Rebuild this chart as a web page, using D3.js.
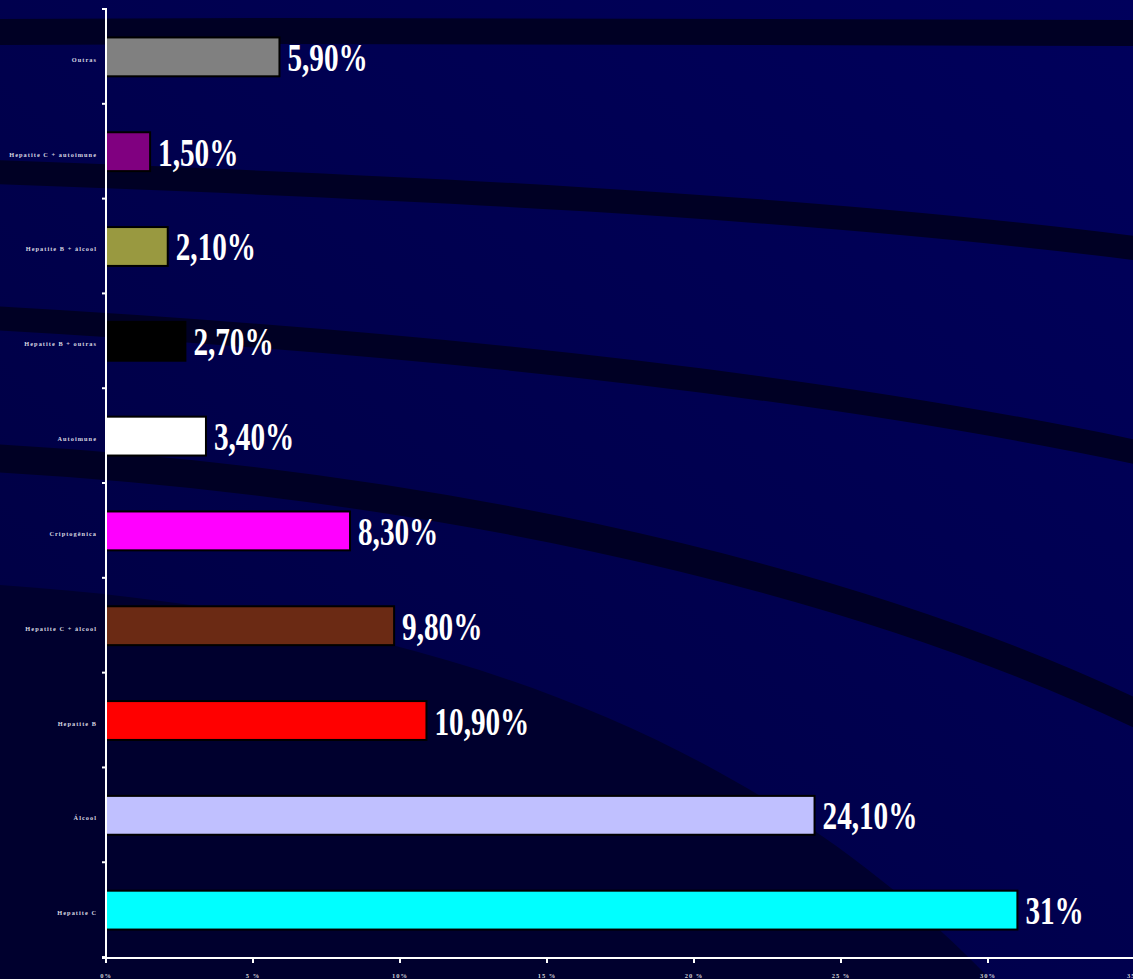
<!DOCTYPE html>
<html>
<head>
<meta charset="utf-8">
<script src="https://cdn.jsdelivr.net/npm/d3@7"></script>
<style>
  html, body { margin: 0; padding: 0; background: #00004c; overflow: hidden; }
  svg { display: block; }
</style>
</head>
<body>
<svg id="chart" width="1133" height="979"></svg>
<script>
// Causes, top to bottom as drawn
const categories = [
  "Outras",
  "Hepatite C + autoimune",
  "Hepatite B + álcool",
  "Hepatite B + outras",
  "Autoimune",
  "Criptogênica",
  "Hepatite C + álcool",
  "Hepatite B",
  "Álcool",
  "Hepatite C"
];
// Share of cases (%)
const values = [5.9, 1.5, 2.1, 2.7, 3.4, 8.3, 9.8, 10.9, 24.1, 31];
const valueLabels = ["5,90%", "1,50%", "2,10%", "2,70%", "3,40%", "8,30%", "9,80%", "10,90%", "24,10%", "31%"];
const barColors = ["#808080", "#800080", "#999940", "#000000", "#ffffff", "#ff00ff", "#6b2a14", "#ff0000", "#c0c0ff", "#00ffff"];
const xTickValues = [0, 5, 10, 15, 20, 25, 30, 35];
const xTickLabels = ["0%", "5 %", "10%", "15 %", "20 %", "25 %", "30%", "35%"];

const W = 1133, H = 979;
const svg = d3.select("#chart");

// ---- backdrop: navy field with dark sweeping bands ----
const defs = svg.append("defs");
const grad = defs.append("linearGradient").attr("id", "bg")
  .attr("x1", 0).attr("y1", 1).attr("x2", 1).attr("y2", 0);
grad.append("stop").attr("offset", 0).attr("stop-color", "#000040");
grad.append("stop").attr("offset", 1).attr("stop-color", "#00005c");
svg.append("rect").attr("width", W).attr("height", H).attr("fill", "url(#bg)");

const bg = svg.append("g");
// lower-left dark sweep
bg.append("path")
  .attr("d", "M0,585 C360,610 720,700 990,979 L0,979 Z")
  .attr("fill", "#00002e");
// dark stripes
const stripes = [
  { d: "M-10,32 C380,30 780,30 1150,33", w: 26 },
  { d: "M-10,172 C380,186 800,205 1150,250", w: 24 },
  { d: "M-10,318 C380,340 800,380 1150,455", w: 24 },
  { d: "M-10,458 C380,480 820,560 1150,720", w: 28 }
];
stripes.forEach(s => bg.append("path")
  .attr("d", s.d).attr("fill", "none")
  .attr("stroke", "#000024").attr("stroke-width", s.w));

// ---- scales ----
const x = d3.scaleLinear().domain([0, 35]).range([106, 1135]);
const y = d3.scaleBand().domain(categories).range([9, 958]).paddingInner(0.59).paddingOuter(0.3);

const plot = svg.append("g");

// bars
plot.selectAll("rect.bar")
  .data(categories)
  .join("rect")
  .attr("class", "bar")
  .attr("x", x(0))
  .attr("y", d => y(d))
  .attr("width", (d, i) => x(values[i]) - x(0))
  .attr("height", y.bandwidth())
  .attr("fill", (d, i) => barColors[i])
  .attr("stroke", "#000000")
  .attr("stroke-width", 2);

// value labels
plot.selectAll("text.val")
  .data(categories)
  .join("text")
  .attr("class", "val")
  .attr("transform", (d, i) => `translate(${x(values[i]) + 8},${y(d) + y.bandwidth() / 2 + 14}) scale(0.73,1)`)
  .attr("font-family", "'Liberation Serif', 'Times New Roman', serif")
  .attr("font-weight", "bold")
  .attr("font-size", 40)
  .attr("fill", "#ffffff")
  .text((d, i) => valueLabels[i]);

// ---- y axis ----
const yAxis = svg.append("g");
yAxis.append("line")
  .attr("x1", x(0)).attr("x2", x(0))
  .attr("y1", 8).attr("y2", 958)
  .attr("stroke", "#ffffff").attr("stroke-width", 2);
const step = y.step();
const start = y(categories[0]) - step * y.paddingOuter();
const boundaries = d3.range(categories.length + 1).map(i => start + i * step);
yAxis.selectAll("line.tick")
  .data(boundaries)
  .join("line")
  .attr("class", "tick")
  .attr("x1", x(0) - 4).attr("x2", x(0))
  .attr("y1", d => d).attr("y2", d => d)
  .attr("stroke", "#ffffff").attr("stroke-width", 2);
yAxis.selectAll("text")
  .data(categories)
  .join("text")
  .attr("x", 97)
  .attr("y", d => y(d) + y.bandwidth() / 2 + 5)
  .attr("text-anchor", "end")
  .attr("font-family", "'Liberation Serif', 'Times New Roman', serif")
  .attr("font-weight", "bold")
  .attr("font-size", 6.3)
  .attr("letter-spacing", 1.05)
  .attr("fill", "#d8d8e0")
  .text(d => d);

// ---- x axis ----
const xAxis = svg.append("g");
xAxis.append("line")
  .attr("x1", x(0) - 4).attr("x2", W)
  .attr("y1", 958).attr("y2", 958)
  .attr("stroke", "#ffffff").attr("stroke-width", 2);
xAxis.selectAll("line.tick")
  .data(xTickValues)
  .join("line")
  .attr("class", "tick")
  .attr("x1", d => x(d)).attr("x2", d => x(d))
  .attr("y1", 958).attr("y2", 963)
  .attr("stroke", "#ffffff").attr("stroke-width", 2);
xAxis.selectAll("text")
  .data(xTickValues)
  .join("text")
  .attr("x", d => x(d))
  .attr("y", 978)
  .attr("text-anchor", "middle")
  .attr("font-family", "'Liberation Serif', 'Times New Roman', serif")
  .attr("font-weight", "bold")
  .attr("font-size", 6.5)
  .attr("letter-spacing", 1)
  .attr("fill", "#d0d0d8")
  .text((d, i) => xTickLabels[i]);
</script>
</body>
</html>
